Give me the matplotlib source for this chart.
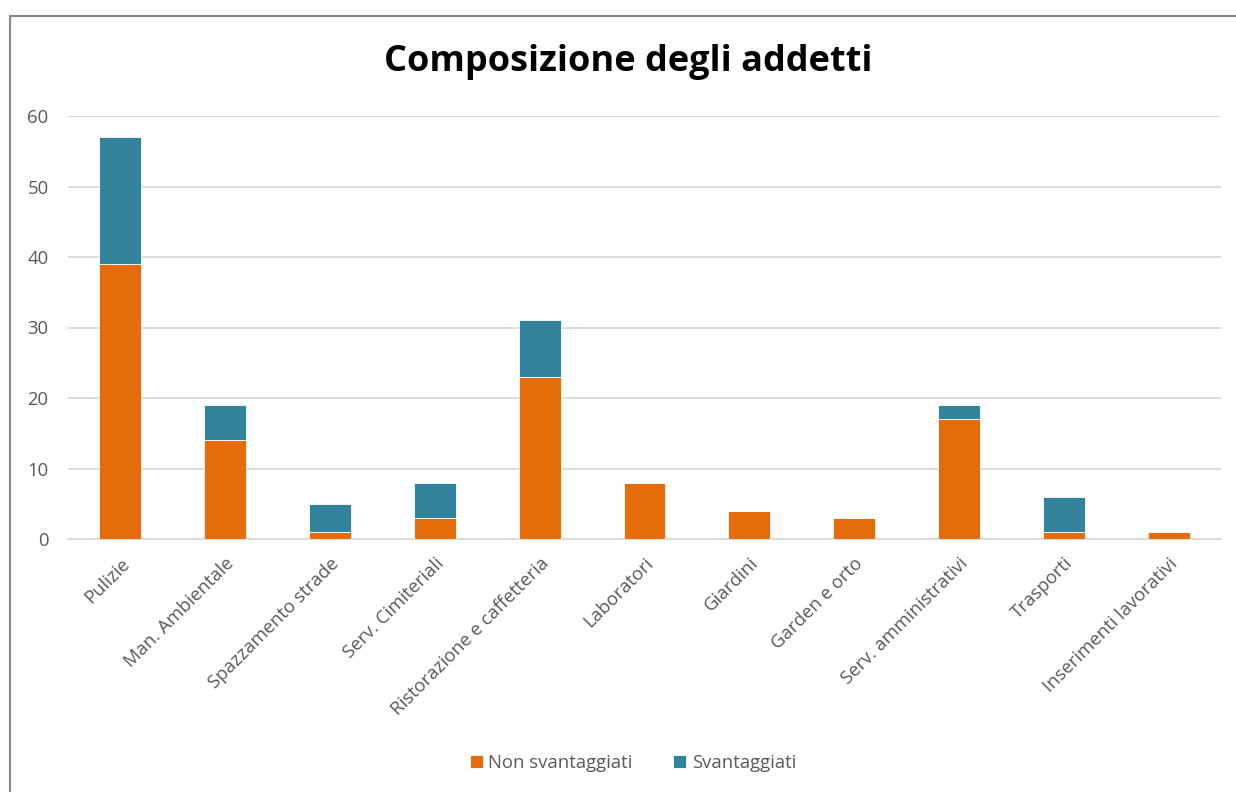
import numpy as np
import matplotlib.pyplot as plt
from matplotlib.patches import Rectangle

categorie = ["Pulizie", "Man. Ambientale", "Spazzamento strade", "Serv. Cimiteriali",
             "Ristorazione e caffetteria", "Laboratori", "Giardini", "Garden e orto",
             "Serv. amministrativi", "Trasporti", "Inserimenti lavorativi"]
non_svantaggiati = [39, 14, 1, 3, 23, 8, 4, 3, 17, 1, 1]
svantaggiati = [18, 5, 4, 5, 8, 0, 0, 0, 2, 5, 0]

arancio = "#E46C0A"
blu = "#31849B"
grigio = "#595959"

plt.rcParams['font.family'] = ['Open Sans', 'DejaVu Sans']

fig = plt.figure(figsize=(12.36, 7.92), dpi=100)
ax = fig.add_axes([68/1236, 1 - 539/792, (1221 - 68)/1236, (539 - 116)/792])

x = np.arange(len(categorie))
ax.bar(x, non_svantaggiati, width=0.4, color=arancio, edgecolor="white", linewidth=0.6,
       label="Non svantaggiati", zorder=3)
ax.bar(x, svantaggiati, width=0.4, bottom=non_svantaggiati, color=blu, edgecolor="white",
       linewidth=0.6, label="Svantaggiati", zorder=3)

ax.set_xlim(-0.5, len(categorie) - 0.5)
ax.set_ylim(0, 60)
ax.set_yticks(range(0, 61, 10))
ax.grid(axis="y", color="#D9D9D9", linewidth=1.3, zorder=0)
for s in ["top", "right", "left"]:
    ax.spines[s].set_visible(False)
ax.spines["bottom"].set_color("#D9D9D9")
ax.spines["bottom"].set_linewidth(1.3)
ax.tick_params(axis="both", length=0, colors=grigio, labelsize=13.3)
ax.tick_params(axis="y", pad=14)
ax.tick_params(axis="x", pad=11)
ax.set_xticks(x)
ax.set_xticklabels(categorie, rotation=45, ha="right", rotation_mode="anchor")

fig.text(0.508, 1 - 62/792, "Composizione degli addetti", ha="center", va="center",
         fontsize=26, fontweight="bold", color="black")

ax.legend(loc="center", bbox_to_anchor=(633/1236, 1 - 763/792), bbox_transform=fig.transFigure,
          ncol=2, frameon=False, fontsize=13.3, labelcolor=grigio, handlelength=0.7,
          handleheight=0.7, columnspacing=2.2, handletextpad=0.3)

fig.patches.append(Rectangle((10/1236, -0.05), 1.1, 1 - 16/792 + 0.05, transform=fig.transFigure,
                             fill=False, edgecolor="#888888", linewidth=1.5))

fig.savefig("out.png", dpi=100)
